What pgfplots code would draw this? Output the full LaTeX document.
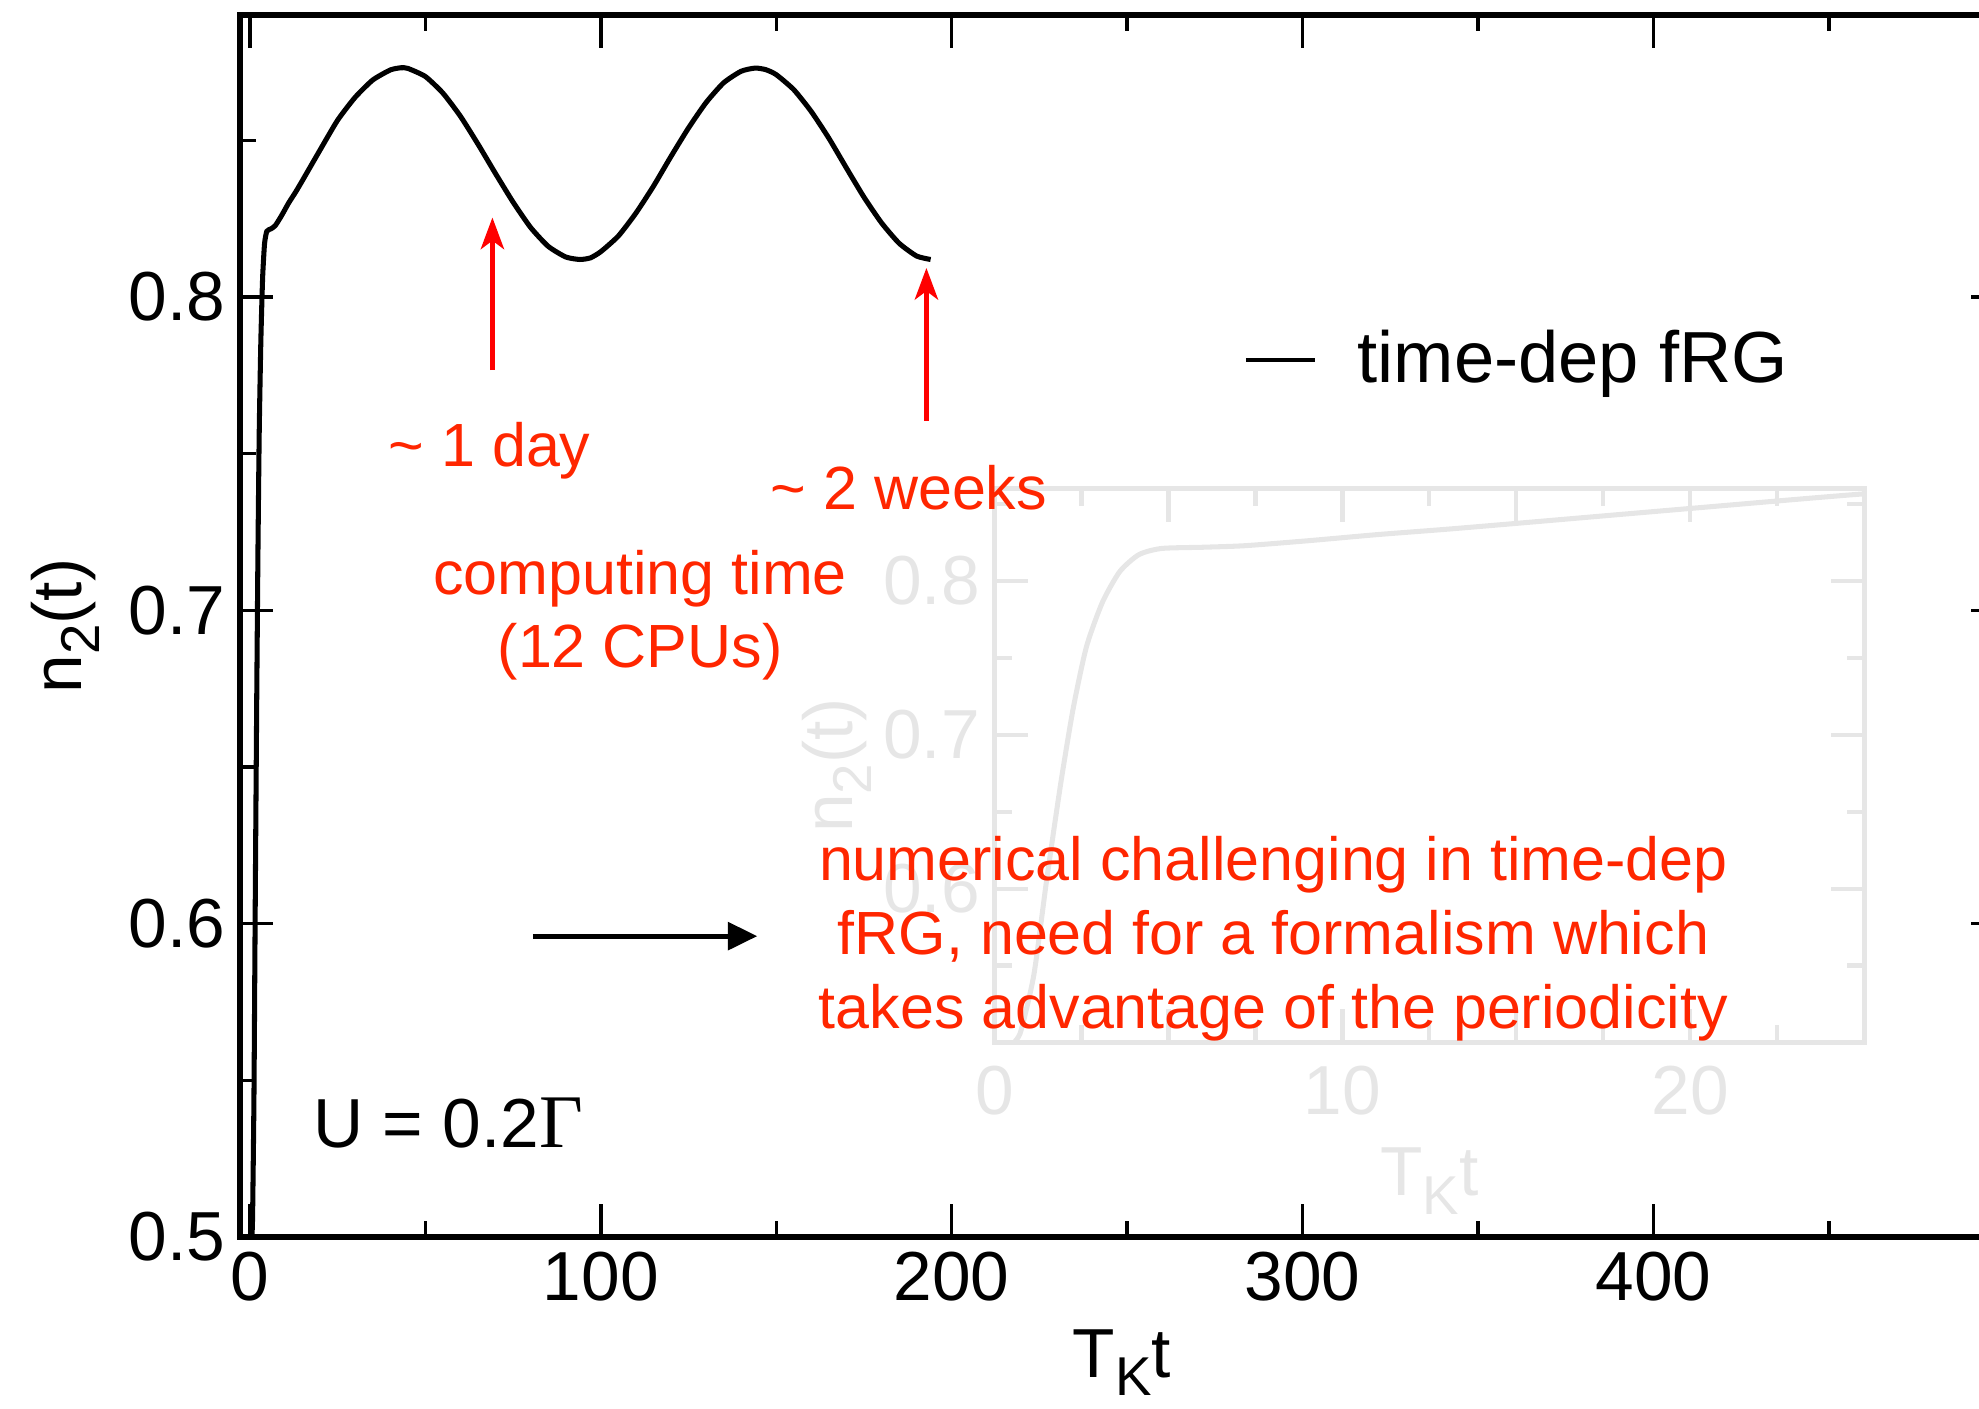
\documentclass[border=0pt]{standalone}
\usepackage{fontspec}
\setmainfont{Liberation Sans}
\newfontfamily\seriffont{Liberation Serif}
\usepackage{pgfplots}
\usepackage{pgfplotstable}
\pgfplotsset{compat=1.18}
\usetikzlibrary{arrows.meta}
\definecolor{annred}{RGB}{255,38,0}
\definecolor{arrred}{RGB}{255,0,0}
\definecolor{insetgray}{RGB}{230,230,230}

% n_2(t)
\pgfplotstableread{
t n
0.55 0.500
0.75 0.507
1.13 0.544
1.5 0.606
1.9 0.668
2.26 0.717
2.64 0.757
3.1 0.786
3.6 0.806
4.15 0.817
4.8 0.8210
6 0.8218
7.2 0.8228
9 0.8260
11 0.8300
13 0.8335
15 0.8373
20 0.8470
25 0.8565
30 0.8638
35 0.8693
40 0.8725
43 0.8732
45 0.8730
50 0.8704
55 0.8651
60 0.8577
65 0.8488
70 0.8394
75 0.8303
80 0.8222
85 0.8162
90 0.8128
94 0.8120
97 0.8125
100 0.8145
105 0.8195
110 0.8268
115 0.8354
120 0.8449
125 0.8540
130 0.8621
135 0.8684
140 0.8721
144 0.8731
147 0.8726
150 0.8710
155 0.8662
160 0.8592
165 0.8507
170 0.8412
175 0.8319
180 0.8237
185 0.8172
190 0.8131
194 0.8120
}\ntwo

\newcommand{\tickfont}{\fontsize{16.5}{19}\selectfont}
\newcommand{\redfont}{\fontsize{14.5}{17.5}\selectfont}
\newcommand{\lowsub}[1]{\raisebox{-0.5ex}{\fontsize{13}{13}\selectfont #1}}

\begin{document}
\begin{tikzpicture}
% faded inset (drawn first, behind everything)
\begin{axis}[
    scale only axis,
    at={(179.4pt,46.2pt)}, anchor=south west,
    width=206.7pt, height=131.7pt,
    xmin=0, xmax=25, ymin=0.5, ymax=0.86,
    xtick={0,5,...,25}, xticklabels={0,,10,,20,},
    minor xtick={2.5,7.5,...,22.5},
    ytick={0.5,0.6,0.7,0.8}, yticklabels={,0.6,0.7,0.8},
    minor ytick={0.55,0.65,0.75,0.85},
    tick align=inside, major tick length=8pt, minor tick length=4.2pt,
    every tick/.style={insetgray, line width=1pt},
    axis line style={insetgray, line width=1.2pt},
    /pgf/number format/assume math mode=true,
    tick label style={font=\tickfont, text=insetgray},
    xticklabel style={yshift=-2pt},
    xlabel={T\lowsub{K}t}, ylabel={n\lowsub{2}(t)},
    label style={font=\tickfont, text=insetgray},
    xlabel style={yshift=-1pt},
    ylabel style={yshift=-4pt},
]
\addplot[insetgray, line width=1.2pt, smooth, tension=0.4] table[x=t, y=n] {\ntwo};
\end{axis}

\begin{axis}[
    scale only axis,
    at={(0pt,0pt)}, anchor=south west,
    width=419.4pt, height=290.4pt,
    xmin=-2.9, xmax=500, ymin=0.5, ymax=0.89,
    xtick={0,100,...,400}, minor xtick={50,150,...,450},
    extra x ticks={500}, extra x tick labels={},
    ytick={0.5,0.6,0.7,0.8}, minor ytick={0.55,0.65,0.75,0.85},
    tick align=inside, major tick length=7.8pt, minor tick length=3.8pt,
    every tick/.style={black, line width=0.8pt},
    axis line style={line width=1.3pt},
    /pgf/number format/assume math mode=true,
    yticklabel style={/pgf/number format/fixed, /pgf/number format/precision=1,
        /pgf/number format/fixed zerofill},
    tick label style={font=\tickfont},
    xlabel={T\lowsub{K}t}, ylabel={n\lowsub{2}(t)},
    label style={font=\tickfont},
    legend style={at={(0.5685,0.718)}, anchor=west, draw=none, fill=none,
        font=\fontsize{17.2}{20}\selectfont, inner sep=0pt},
    legend image code/.code={\draw[black, line width=1pt] (0pt,0pt) -- (16.5pt,0pt);
        \path (24pt,0pt);},
]
\addplot[black, line width=1.2pt, smooth, tension=0.35] table[x=t, y=n] {\ntwo};
\addlegendentry{time-dep fRG}

% computing time markers
\draw[arrred, line width=1.2pt, -{Stealth[length=7.5pt, width=5.5pt, inset=2pt]}]
    (axis cs:69.1,0.7767) -- (axis cs:69.1,0.8254);
\draw[arrred, line width=1.2pt, -{Stealth[length=7.5pt, width=5.5pt, inset=2pt]}]
    (axis cs:192.8,0.7606) -- (axis cs:192.8,0.8093);
\node[annred, font=\redfont] at (axis cs:68.3,0.7509) {\textasciitilde\ 1 day};
\node[annred, font=\redfont] at (axis cs:187.8,0.7392) {\textasciitilde\ 2 weeks};
\node[annred, font=\redfont, align=center] at (axis cs:111.2,0.6984)
    {computing time\\(12 CPUs)};

\draw[black, line width=1.2pt, -{Triangle[length=7pt, width=6.5pt]}]
    (axis cs:80.6,0.596) -- (axis cs:144.6,0.596);
\node[annred, font=\redfont, align=center] at (axis cs:291.7,0.5952)
    {numerical challenging in time-dep\\fRG, need for a formalism which\\takes advantage of the periodicity};

\node[font=\tickfont] at (axis cs:56.5,0.5364) {U = 0.2{\seriffont\fontsize{18}{20}\selectfont Γ}};
\end{axis}

% the original figure is cut off at the right
\pgfresetboundingbox
\useasboundingbox (-57pt,-40.8pt) rectangle (413.4pt,294pt);
\end{tikzpicture}
\end{document}
